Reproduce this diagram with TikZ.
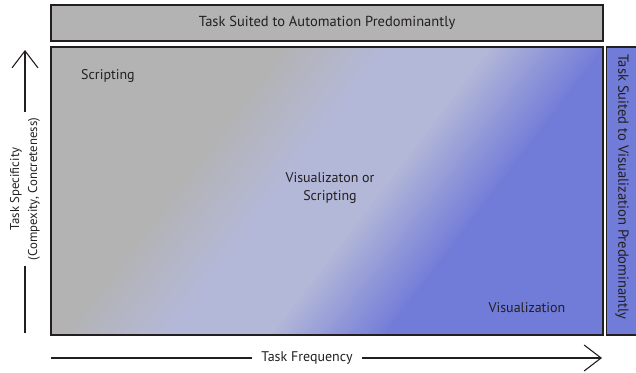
\documentclass[tikz,border=0pt]{standalone}
\usepackage{fontspec}
\setmainfont{PT Sans}
\usepackage{tikz}
\usetikzlibrary{arrows.meta,positioning}
\definecolor{autogray}{HTML}{B3B3B3}
\definecolor{midlav}{HTML}{B4B8D8}
\definecolor{visblue}{HTML}{717BD8}
\definecolor{inkgray}{HTML}{231F20}
\tikzset{
  catbox/.style={draw=inkgray, line width=1.4pt, text=inkgray, inner sep=0pt},
  fieldlabel/.style={text=inkgray, align=center, font=\fontsize{14}{18}\selectfont},
  axisline/.style={draw=inkgray, line width=1.1pt},
  axistip/.style={-{Straight Barb[length=17pt,width=26pt,line width=1.1pt]}}
}

\begin{document}
\begin{tikzpicture}[x=1pt,y=1pt]
\useasboundingbox (0,0) rectangle (636,372);
% blended field
\begin{scope}
  \clip (51,37) rectangle (603,325);
  \begin{scope}[rotate=-37.4]
    \foreach \u in {-170,-166,...,470}{
      \pgfmathsetmacro\ta{max(0,min(100,(\u-24)/0.85))}
      \pgfmathsetmacro\tb{max(0,min(100,(\u-189)/0.95))}
      \colorlet{stripA}{midlav!\ta!autogray}
      \colorlet{stripB}{visblue!\tb!stripA}
      \fill[stripB] (\u,-50) rectangle (\u+4.6,750);
    }
  \end{scope}
\end{scope}
\coordinate (fieldsw) at (51,37);
\coordinate (fieldne) at (603,325);
\draw[catbox] (fieldsw) rectangle (fieldne);

% side boxes
\node (autobox) [catbox, fill=autogray, minimum width=552pt, minimum height=36pt,
  font=\fontsize{14.5}{18}\selectfont] at (327,349) {Task Suited to Automation Predominantly};
\node (visbox) [catbox, fill=visblue, minimum width=31pt, minimum height=288pt] at (622,181) {};
\node (vistext) [fieldlabel, rotate=-90, font=\fontsize{14.6}{18}\selectfont] at (622,185) {Task Suited to Visualization Predominantly};

% field labels
\node (scriptlbl) [fieldlabel] at (108,296) {Scripting};
\node (mixlbl) [fieldlabel] at (330,184) {Visualizaton or\\Scripting};
\node (vislbl) [fieldlabel] at (527,64) {Visualization};

% axes
\node (freqlbl) [fieldlabel, inner xsep=9pt] at (307,14) {Task Frequency};
\coordinate (freqstart) at (51,14);
\coordinate (freqend) at (602,14);
\draw[axisline] (freqstart) -- (freqlbl.west);
\draw[axisline, axistip] (freqlbl.east) -- (freqend);

\node (speclbl) [fieldlabel, rotate=90, inner xsep=6pt, font=\fontsize{12.8}{18}\selectfont] at (25,183) {Task Specificity\\(Compexity, Concreteness)};
\coordinate (specstart) at (25,39);
\coordinate (specend) at (25,322);
\draw[axisline] (specstart) -- (speclbl.west);
\draw[axisline, axistip] (speclbl.east) -- (specend);
\end{tikzpicture}
\end{document}
